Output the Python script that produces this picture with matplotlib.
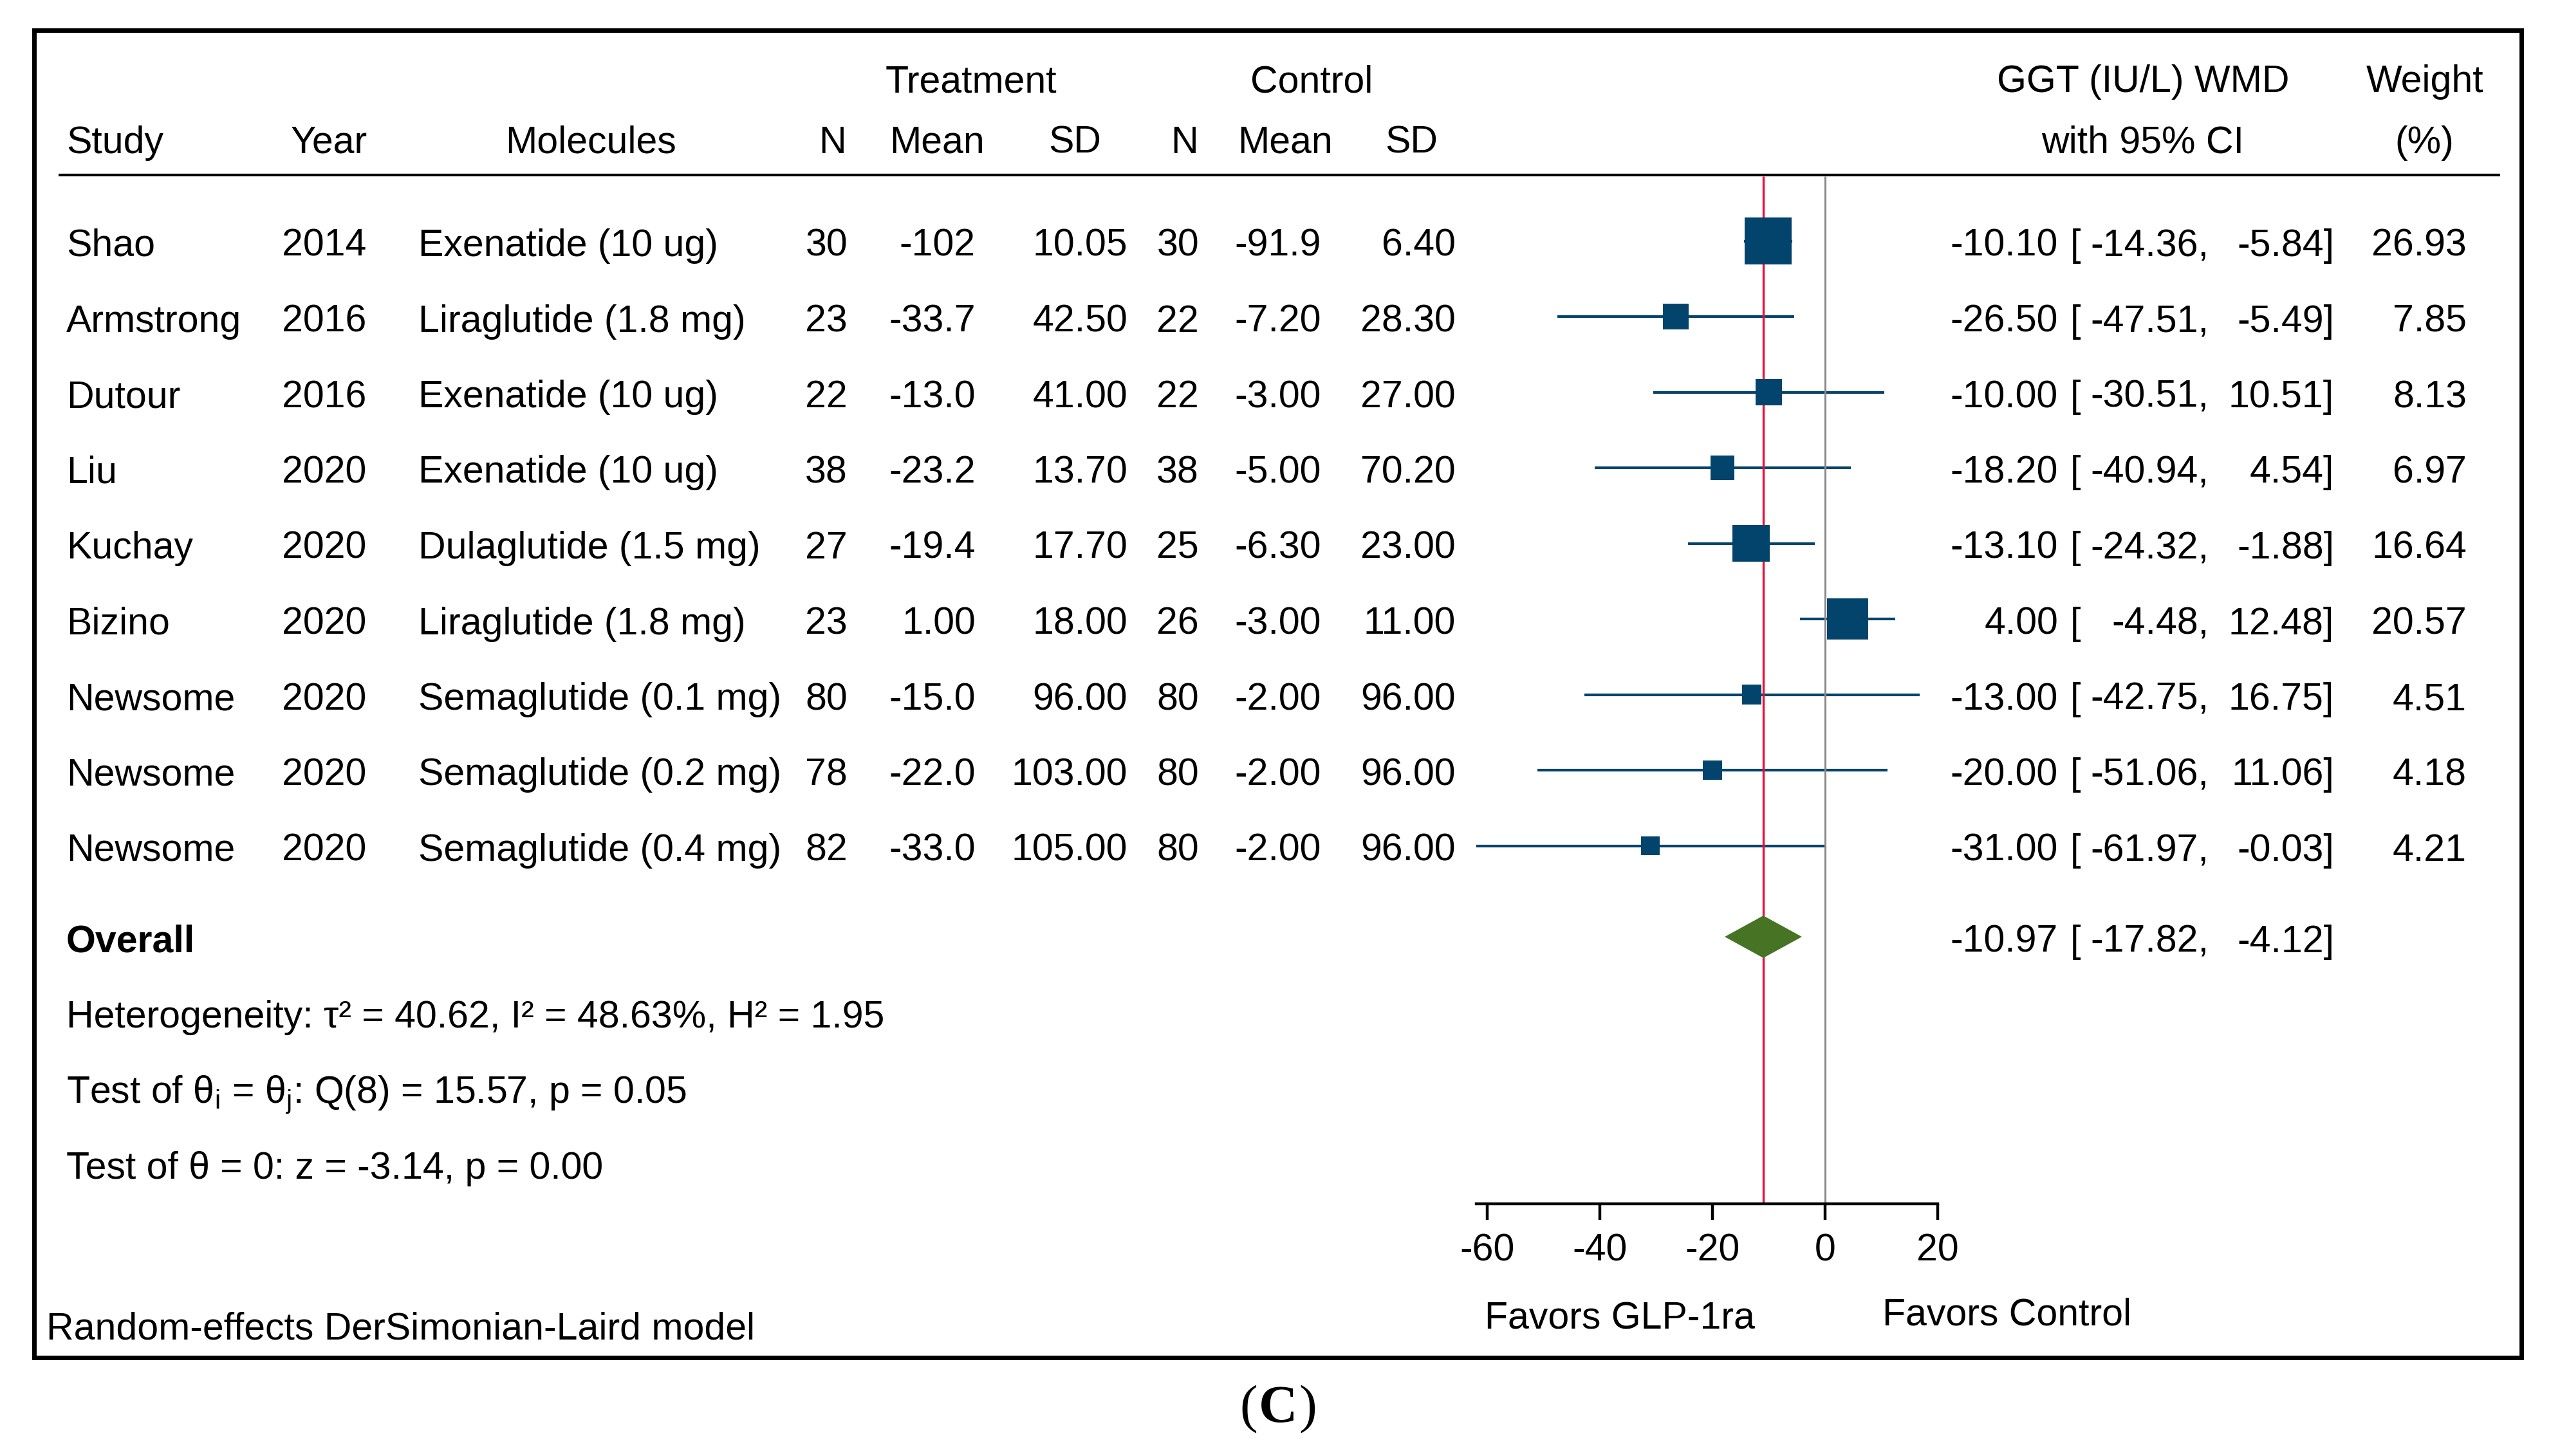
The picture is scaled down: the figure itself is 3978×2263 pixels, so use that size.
import numpy as np
import matplotlib
matplotlib.use("Agg")
import matplotlib.pyplot as plt
from matplotlib import font_manager

#####################################################
#
# Data
#
#####################################################

study = ["Shao", "Armstrong", "Dutour", "Liu", "Kuchay", "Bizino", "Newsome", "Newsome", "Newsome"]
year = ["2014", "2016", "2016", "2020", "2020", "2020", "2020", "2020", "2020"]
molecules = ["Exenatide (10 ug)", "Liraglutide (1.8 mg)", "Exenatide (10 ug)", "Exenatide (10 ug)",
             "Dulaglutide (1.5 mg)", "Liraglutide (1.8 mg)", "Semaglutide (0.1 mg)",
             "Semaglutide (0.2 mg)", "Semaglutide (0.4 mg)"]
treat_n = ["30", "23", "22", "38", "27", "23", "80", "78", "82"]
treat_mean = ["-102", "-33.7", "-13.0", "-23.2", "-19.4", "1.00", "-15.0", "-22.0", "-33.0"]
treat_sd = ["10.05", "42.50", "41.00", "13.70", "17.70", "18.00", "96.00", "103.00", "105.00"]
ctrl_n = ["30", "22", "22", "38", "25", "26", "80", "80", "80"]
ctrl_mean = ["-91.9", "-7.20", "-3.00", "-5.00", "-6.30", "-3.00", "-2.00", "-2.00", "-2.00"]
ctrl_sd = ["6.40", "28.30", "27.00", "70.20", "23.00", "11.00", "96.00", "96.00", "96.00"]

wmd = [-10.10, -26.50, -10.00, -18.20, -13.10, 4.00, -13.00, -20.00, -31.00]
ci_lo = [-14.36, -47.51, -30.51, -40.94, -24.32, -4.48, -42.75, -51.06, -61.97]
ci_hi = [-5.84, -5.49, 10.51, 4.54, -1.88, 12.48, 16.75, 11.06, -0.03]
weight = [26.93, 7.85, 8.13, 6.97, 16.64, 20.57, 4.51, 4.18, 4.21]

overall_wmd = -10.97
overall_lo = -17.82
overall_hi = -4.12

xticks = [-60, -40, -20, 0, 20]

stats_lines = [
    "Heterogeneity: τ² = 40.62, I² = 48.63%, H² = 1.95",
    r"Test of θ$_\mathregular{i}$ = θ$_\mathregular{j}$: Q(8) = 15.57, p = 0.05",
    "Test of θ = 0: z = -3.14, p = 0.00",
]

#####################################################
#
# Layout (figure pixels)
#
#####################################################

W, H = 3978, 2263
ROW0, ROWH = 374.5, 117.5      # pixel centre of first study row, row pitch
PX0, PXU = 2836, 8.75          # pixel of WMD = 0, pixels per WMD unit
BASE = 0.2                     # text baseline offset below row centre (rows)

NAVY = "#03446c"
GREEN = "#467424"
RED = "#e8103a"
GREY = "#8a8a8a"

def py(ypx):
    # figure pixel row -> row units
    return (ypx - ROW0) / ROWH

names = {f.name for f in font_manager.fontManager.ttflist}
if "Liberation Sans Narrow" in names:
    FONT, FS = "Liberation Sans Narrow", 50
else:
    FONT, FS = "Liberation Sans", 42.5

plt.rcParams["font.family"] = [FONT, "DejaVu Sans"]
plt.rcParams["axes.unicode_minus"] = False

fig = plt.figure(figsize=(W / 100, H / 100), dpi=100)
ax = fig.add_axes([0, 0, 1, 1])
ax.set_xlim(0, W)
ax.set_ylim(py(H), py(0))
ax.axis("off")

# forest axes: same rows, x in WMD units
axf = ax.twiny()
axf.set_xlim(-PX0 / PXU, (W - PX0) / PXU)
axf.patch.set_visible(False)

def put(x, r, s, ha="left", **kw):
    ax.text(x, r, s, ha=ha, va="baseline", fontsize=FS, color="black", **kw)

#####################################################
#
# Table text
#
#####################################################

hA = py(143)
hB = py(238)
put(1509, hA, "Treatment", "center")
put(2038, hA, "Control", "center")
put(3330, hA, "GGT (IU/L) WMD", "center")
put(3768, hA, "Weight", "center")

put(103, hB, "Study")
put(452, hB, "Year")
put(918, hB, "Molecules", "center")
put(1315, hB, "N", "right")
put(1456, hB, "Mean", "center")
put(1670, hB, "SD", "center")
put(1862, hB, "N", "right")
put(1997, hB, "Mean", "center")
put(2193, hB, "SD", "center")
put(3330, hB, "with 95% CI", "center")
put(3767, hB, "(%)", "center")

ax.plot([91, 3885], [py(272), py(272)], color="black", lw=3, solid_capstyle="butt")

rows = np.arange(len(study))
columns = [
    (103, "left", study), (438, "left", year), (650, "left", molecules),
    (1317, "right", treat_n), (1516, "right", treat_mean), (1752, "right", treat_sd),
    (1863, "right", ctrl_n), (2053, "right", ctrl_mean), (2262, "right", ctrl_sd),
]
for x, ha, vals in columns:
    for r, v in zip(rows, vals):
        put(x, r + BASE, v, ha)

def ci_text(r, est, lo, hi, w=None):
    put(3198, r, f"{est:.2f}", "right")
    put(3217, r, "[")
    put(3432, r, f"{lo:.2f},", "right")
    put(3627, r, f"{hi:.2f}]", "right")
    if w is not None:
        put(3833, r, f"{w:.2f}", "right")

for r, e, lo, hi, w in zip(rows, wmd, ci_lo, ci_hi, weight):
    ci_text(r + BASE, e, lo, hi, w)

overall_row = py(1456)
put(103, overall_row + BASE, "Overall", weight="bold")
ci_text(overall_row + BASE, overall_wmd, overall_lo, overall_hi)

for k, s in enumerate(stats_lines):
    put(103, overall_row + 1 + k + BASE, s)

put(72, py(2082), "Random-effects DerSimonian-Laird model")

#####################################################
#
# Forest plot
#
#####################################################

axis_row = py(1871)
top_row = py(274)

axf.hlines(rows, ci_lo, ci_hi, color=NAVY, lw=3, zorder=1)
axf.vlines(0, top_row, axis_row, color=GREY, lw=2.2, zorder=2)
axf.vlines(overall_wmd, top_row, axis_row, color=RED, lw=2.4, zorder=2)

side_px = 14.2 * np.sqrt(np.array(weight))
axf.scatter(wmd, rows, s=(side_px * 0.72) ** 2, marker="s", color=NAVY,
            linewidths=0, zorder=3)

h = 0.28
axf.fill([overall_lo, overall_wmd, overall_hi, overall_wmd],
         [overall_row, overall_row - h, overall_row, overall_row + h],
         color=GREEN, lw=0, zorder=4)

for s in ["top", "left", "right"]:
    axf.spines[s].set_visible(False)
axf.spines["bottom"].set_position(("data", axis_row))
axf.spines["bottom"].set_bounds(min(ci_lo), max(xticks))
axf.spines["bottom"].set_linewidth(3.2)
axf.xaxis.set_ticks_position("bottom")
axf.xaxis.set_label_position("bottom")
axf.set_xticks(xticks)
axf.tick_params(axis="x", direction="out", length=18, width=3.2, pad=15,
                labelsize=FS, colors="black")

put(2307, py(2065), "Favors GLP-1ra")
put(2925, py(2060), "Favors Control")

# outer frame
fig.add_artist(plt.Rectangle((53 / W, 1 - 2110 / H), (3918 - 53) / W, (2110 - 47) / H,
                             transform=fig.transFigure, fill=False, ec="black", lw=5))

# panel caption
cap_y = 1 - 2210 / H
fig.text(1986 / W, cap_y, "C", ha="center", va="baseline", fontsize=60,
         family="Liberation Serif", weight="bold")
fig.text((1986 - 32) / W, cap_y, "(", ha="right", va="baseline", fontsize=60,
         family="Liberation Serif")
fig.text((1986 + 32) / W, cap_y, ")", ha="left", va="baseline", fontsize=60,
         family="Liberation Serif")

fig.savefig("out.png", dpi=100, facecolor="white")
